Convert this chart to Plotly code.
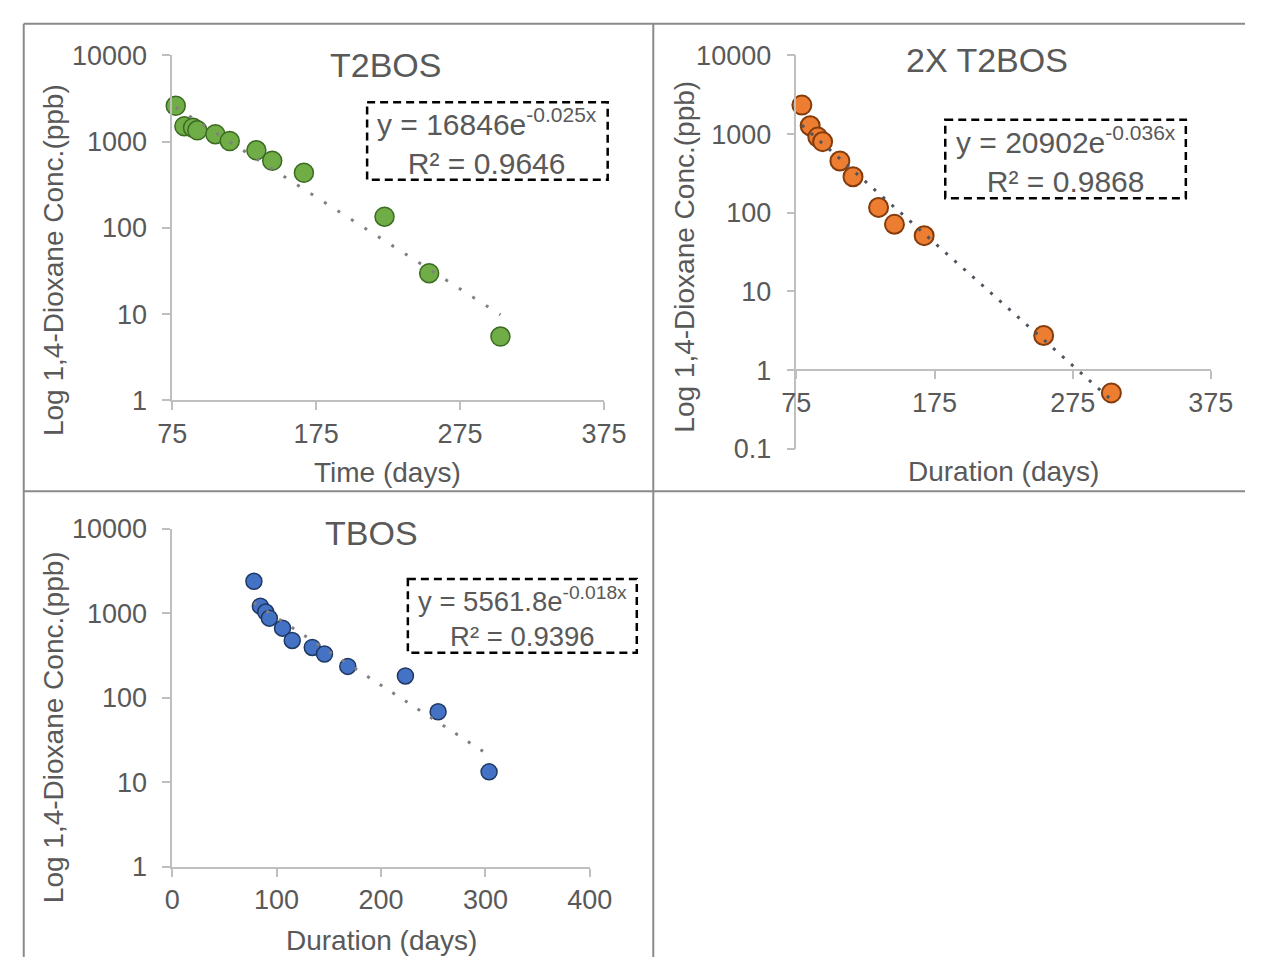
import numpy as np
import plotly.graph_objects as go

# ---------------- data ----------------
days_t2bos = [77.5, 83.5, 89.5, 92.5, 105, 115, 133.5, 144.5, 166.5, 222.5, 253.5, 303]
conc_t2bos = [2605, 1514, 1449, 1353, 1221, 1019, 793, 601, 436, 135, 29.9, 5.5]

days_2x = [79, 85, 90.5, 94, 106.5, 116, 134.5, 146, 167.5, 254, 303]
conc_2x = [2335, 1277, 916, 802, 455, 287, 117, 71.3, 51.2, 2.76, 0.514]

days_tbos = [78.3, 84.5, 89.6, 93.1, 105.7, 115, 134.2, 145.9, 168.2, 223.4, 254.7, 303.5]
conc_tbos = [2385, 1211, 1033, 874, 665, 476, 393, 329, 235, 181, 68.2, 13.3]

titles = ["T2BOS", "2X T2BOS", "TBOS"]
eq_main = ["y = 16846e", "y = 20902e", "y = 5561.8e"]
eq_exp = ["-0.025x", "-0.036x", "-0.018x"]
eq_r2 = ["R² = 0.9646", "R² = 0.9868", "R² = 0.9396"]

x_ticks_1 = [75, 175, 275, 375]
x_ticks_2 = [75, 175, 275, 375]
x_ticks_3 = [0, 100, 200, 300, 400]
y_ticks_13 = [1, 10, 100, 1000, 10000]
y_ticks_2 = [0.1, 1, 10, 100, 1000, 10000]

W, H = 1268, 972
FONT = "Liberation Sans, Arial, sans-serif"
TXT = "#595959"
AX = "#BFBFBF"


def px(x):
    return x / W


def py(y):
    return 1 - y / H


fig = go.Figure()


def trend(days, conc):
    b, ln_a = np.polyfit(np.array(days, float), np.log(np.array(conc, float)), 1)
    xs = np.array([min(days), max(days)])
    return xs, np.exp(ln_a + b * xs)


panels = [
    (days_t2bos, conc_t2bos, "x", "y", "#70AD47", "#3B6B22", 19, 1.5, "#808080", "3px,13px"),
    (days_2x, conc_2x, "x2", "y2", "#ED7D31", "#843C0C", 19, 2, "#4D5560", "3px,9px"),
    (days_tbos, conc_tbos, "x3", "y3", "#4472C4", "#1F3864", 16, 1.5, "#808080", "3px,12px"),
]

for d, c, xa, ya, fill, edge, ms, mw, tcol, tdash in panels:
    fig.add_trace(go.Scatter(
        x=d, y=c, xaxis=xa, yaxis=ya, mode="markers", cliponaxis=False,
        marker=dict(size=ms, color=fill, line=dict(color=edge, width=mw)),
        showlegend=False, hoverinfo="skip"))
    tx, ty = trend(d, c)
    fig.add_trace(go.Scatter(
        x=tx, y=ty, xaxis=xa, yaxis=ya, mode="lines", cliponaxis=False,
        line=dict(color=tcol, width=3, dash=tdash),
        showlegend=False, hoverinfo="skip"))

tickfont = dict(family=FONT, size=27, color=TXT)


def xax(domain, rng, vals, anchor, position=None):
    d = dict(domain=domain, range=rng, tickvals=vals, ticktext=[str(v) for v in vals],
             ticks="outside", ticklen=8, tickwidth=1.5, tickcolor=AX,
             showline=True, linecolor=AX, linewidth=1.5, showgrid=False, zeroline=False,
             tickfont=tickfont, ticklabelstandoff=0)
    if position is None:
        d["anchor"] = anchor
    else:
        d["anchor"] = "free"
        d["position"] = position
    return d


def yax(domain, rng, vals, anchor):
    return dict(domain=domain, type="log", range=rng, tickvals=vals,
                ticktext=[("%g" % v) for v in vals],
                ticks="outside", ticklen=8, tickwidth=1.5, tickcolor=AX,
                showline=True, linecolor=AX, linewidth=1.5, showgrid=False, zeroline=False,
                tickfont=tickfont, anchor=anchor, ticklabelstandoff=10)


fig.update_layout(
    width=W, height=H, margin=dict(l=0, r=0, t=0, b=0),
    paper_bgcolor="white", plot_bgcolor="white",
    font=dict(family=FONT, color=TXT),
    xaxis=xax([px(162), px(607.3)], [75, 375], x_ticks_1, "y"),
    yaxis=yax([py(397.7), py(41.7)], [0, 4], y_ticks_13, "x"),
    xaxis2=xax([px(805.5), px(1232.8)], [75, 375], x_ticks_2, None, position=py(366.7)),
    yaxis2=yax([py(447.7), py(41.7)], [-1, 4], y_ticks_2, "x2"),
    xaxis3=xax([px(162), px(592.6)], [0, 400], x_ticks_3, "y3"),
    yaxis3=yax([py(879), py(530)], [0, 4], y_ticks_13, "x3"),
)

ann = []
# chart titles
for t, (cx, cy) in zip(titles, [(382, 52), (1002, 46), (367, 534)]):
    ann.append(dict(text=t, x=px(cx), y=py(cy), xref="paper", yref="paper",
                    showarrow=False, xanchor="center", yanchor="middle",
                    font=dict(family=FONT, size=34, color=TXT)))
# axis titles
for t, (cx, cy) in zip(["Time (days)", "Duration (days)", "Duration (days)"],
                       [(384, 472), (1019, 471), (378, 955)]):
    ann.append(dict(text=t, x=px(cx), y=py(cy), xref="paper", yref="paper",
                    showarrow=False, xanchor="center", yanchor="middle",
                    font=dict(family=FONT, size=28, color=TXT)))
for (cx, cy) in [(39, 253), (690, 249), (39, 735)]:
    ann.append(dict(text="Log 1,4-Dioxane Conc.(ppb)", x=px(cx), y=py(cy),
                    xref="paper", yref="paper", textangle=-90,
                    showarrow=False, xanchor="center", yanchor="middle",
                    font=dict(family=FONT, size=28, color=TXT)))

# equation boxes
boxes = [(363, 90, 611, 170), (959, 108, 1207, 189), (405, 582, 641, 658)]
eq_sizes = [30, 30, 27.5]
shapes = []
for i, (x0, y0, x1, y1) in enumerate(boxes):
    shapes.append(dict(type="rect", xref="paper", yref="paper",
                       x0=px(x0), x1=px(x1), y0=py(y0), y1=py(y1),
                       line=dict(color="black", width=2.5, dash="8px,5px")))
    ann.append(dict(text=eq_main[i] + "<sup>" + eq_exp[i] + "</sup><br>" + eq_r2[i],
                    x=px((x0 + x1) / 2), y=py((y0 + y1) / 2 + 1),
                    xref="paper", yref="paper", showarrow=False,
                    xanchor="center", yanchor="middle", align="center",
                    font=dict(family=FONT, size=eq_sizes[i], color=TXT)))

# panel borders
BC = "#8A8A8A"
for (x0, y0, x1, y1) in [(9, 9, W, 9), (9, 9, 9, H), (658, 9, 658, H), (9, 491.5, W, 491.5)]:
    shapes.append(dict(type="line", xref="paper", yref="paper",
                       x0=px(x0), x1=px(x1), y0=py(y0), y1=py(y1),
                       line=dict(color=BC, width=2)))

fig.update_layout(annotations=ann, shapes=shapes)

post = ("var gd=document.getElementsByClassName('plotly-graph-div')[0];"
        "gd.style.position='fixed';gd.style.left='0px';gd.style.top='0px';"
        "document.documentElement.style.margin='0';"
        "document.documentElement.style.padding='0';"
        "document.documentElement.style.overflow='hidden';"
        "document.body.style.margin='0';document.body.style.padding='0';"
        "document.body.style.overflow='hidden';")
fig.write_html("out.html", post_script=post, config={"displayModeBar": False})
